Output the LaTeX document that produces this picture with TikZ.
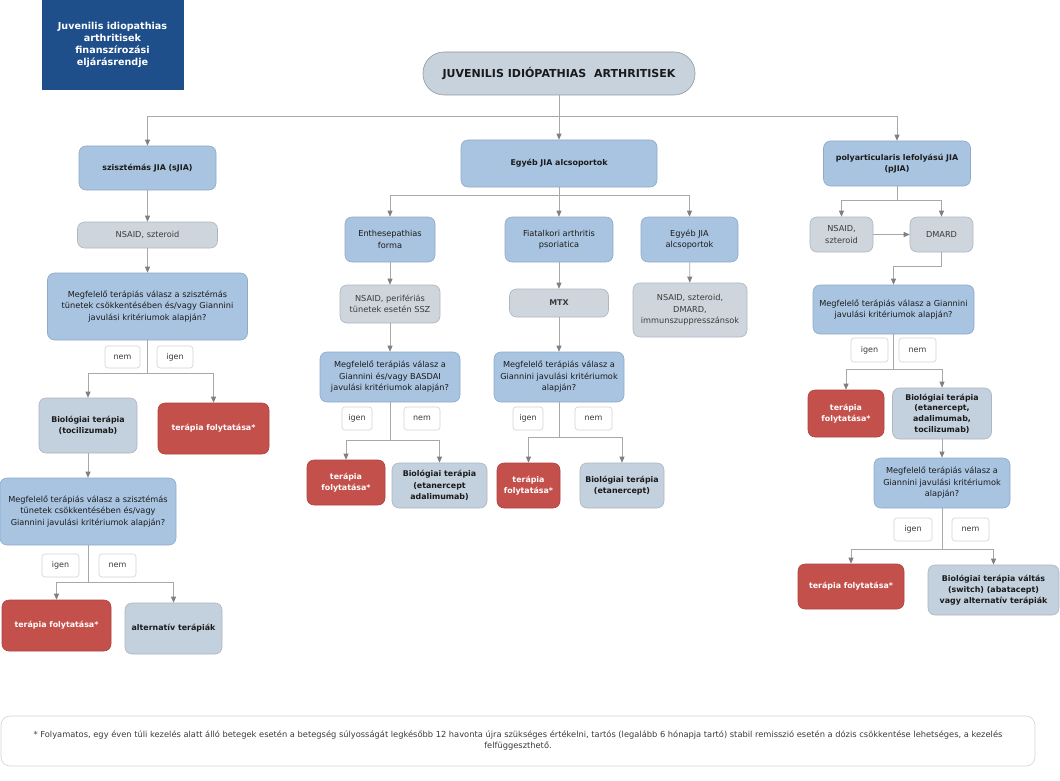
\documentclass[tikz,border=0pt]{standalone}
\usepackage{fontspec}
\setmainfont{DejaVu Sans}
\usetikzlibrary{arrows.meta}
\definecolor{titleF}{HTML}{1F4F8A}
\definecolor{pillF}{HTML}{C8D2DD}
\definecolor{pillD}{HTML}{8E98A3}
\definecolor{blueF}{HTML}{A9C4E0}
\definecolor{blueD}{HTML}{8FAAC8}
\definecolor{grayF}{HTML}{CFD5DC}
\definecolor{grayD}{HTML}{AEB6BF}
\definecolor{bgrayF}{HTML}{C3D0DD}
\definecolor{redF}{HTML}{C4504C}
\definecolor{redD}{HTML}{AE4441}
\definecolor{lblD}{HTML}{D2D2D2}
\definecolor{lineC}{HTML}{A8A8A8}
\definecolor{tipC}{HTML}{808080}
\definecolor{txt}{HTML}{1A1A1A}
\definecolor{txtg}{HTML}{3A3A3A}
\begin{document}
\begin{tikzpicture}[x=1pt,y=-1pt,
  bx/.style={draw, rounded corners=7pt, align=center, inner sep=1pt, line width=0.6pt, font=\fontsize{8.2}{11.5}\selectfont},
  sz/.style 2 args={minimum width=#1pt, minimum height=#2pt},
  bluebox/.style={bx, fill=blueF, draw=blueD, text=txt},
  graybox/.style={bx, fill=grayF, draw=grayD, text=txtg},
  biobox/.style={bx, fill=bgrayF, draw=grayD, text=txt, font=\fontsize{7.9}{11.2}\selectfont\bfseries},
  redbox/.style={bx, fill=redF, draw=redD, text=white, font=\fontsize{7.9}{11.5}\selectfont\bfseries},
  bold/.style={font=\fontsize{7.9}{11.5}\selectfont\bfseries},
  lbl/.style={draw=lblD, fill=white, rounded corners=3pt, line width=0.6pt, font=\fontsize{8}{9}\selectfont, text=txtg},
  conn/.style={draw=lineC, line width=0.7pt},
  arr/.style={conn, -{Triangle[length=6pt,width=5pt,fill=tipC,color=tipC]}}]
\useasboundingbox (0,0) rectangle (1060,781);

% title
\node[bx, rounded corners=0pt, fill=titleF, draw=titleF, text=white, font=\fontsize{9.6}{12}\selectfont\bfseries, sz={141}{89}] (title) at (112.5,44.5) {Juvenilis idiopathias\\arthritisek\\finanszírozási\\eljárásrendje};

% top level
\node[bx, rounded corners=21pt, fill=pillF, draw=pillD, text=txt, font=\fontsize{11}{12}\selectfont\bfseries, sz={272}{43}] (top) at (559,73.5) {JUVENILIS IDIÓPATHIAS\ \ ARTHRITISEK};
\node[bluebox, bold, sz={137}{44}] (sjia) at (147.5,168) {szisztémás JIA (sJIA)};
\node[bluebox, bold, sz={196}{47}] (egyeb) at (559,163.5) {Egyéb JIA alcsoportok};
\node[bluebox, bold, sz={147}{45}] (pjia) at (897,163.5) {polyarticularis lefolyású JIA\\(pJIA)};

% sJIA column
\node[graybox, sz={140}{26}] (nsaid1) at (147.5,235) {NSAID, szteroid};
\node[bluebox, sz={200}{67}] (q1) at (147.5,306.5) {Megfelelő terápiás válasz a szisztémás\\tünetek csökkentésében és/vagy Giannini\\javulási kritériumok alapján?};
\node[lbl, sz={35}{22}] (nem1) at (122.5,357) {nem};
\node[lbl, sz={36}{22}] (igen1) at (175,357) {igen};
\node[biobox, sz={98}{55}] (bio1) at (88,425.5) {Biológiai terápia\\(tocilizumab)};
\node[redbox, sz={111}{51}] (red1) at (213.5,428.5) {terápia folytatása*};
\node[bluebox, sz={176}{67}] (q2) at (88,511.5) {Megfelelő terápiás válasz a szisztémás\\tünetek csökkentésében és/vagy\\Giannini javulási kritériumok alapján?};
\node[lbl, sz={37}{23}] (igen2) at (60.5,565.5) {igen};
\node[lbl, sz={37}{23}] (nem2) at (117.5,565.5) {nem};
\node[redbox, sz={109}{51}] (red2) at (56.5,625.5) {terápia folytatása*};
\node[biobox, sz={97}{51}] (alt) at (173.5,628.5) {alternatív terápiák};

% middle column
\node[bluebox, sz={90}{45}] (enth) at (390,239.5) {Enthesepathias\\forma};
\node[bluebox, sz={108}{45}] (fiat) at (559,239.5) {Fiatalkori arthritis\\psoriatica};
\node[bluebox, sz={97}{45}] (egy2) at (689.5,239.5) {Egyéb JIA\\alcsoportok};
\node[graybox, sz={100}{38}] (nsaid2) at (390,304) {NSAID, perifériás\\tünetek esetén SSZ};
\node[graybox, bold, sz={99}{28}] (mtx) at (559,303) {MTX};
\node[graybox, sz={114}{54}] (nsaid3) at (690,310) {NSAID, szteroid,\\DMARD,\\immunszuppresszánsok};
\node[bluebox, sz={140}{50}] (q3) at (390,377) {Megfelelő terápiás válasz a\\Giannini és/vagy BASDAI\\javulási kritériumok alapján?};
\node[bluebox, sz={130}{50}] (q4) at (559,377) {Megfelelő terápiás válasz a\\Giannini javulási kritériumok\\alapján?};
\node[lbl, sz={30}{23}] (igen3) at (357,418.5) {igen};
\node[lbl, sz={36}{23}] (nem3) at (422,418.5) {nem};
\node[lbl, sz={30}{23}] (igen4) at (528,418.5) {igen};
\node[lbl, sz={37}{23}] (nem4) at (593.5,418.5) {nem};
\node[redbox, sz={78}{45}] (red3) at (346,482.5) {terápia\\folytatása*};
\node[biobox, sz={95}{45}] (bio3) at (439.5,485.5) {Biológiai terápia\\(etanercept\\adalimumab)};
\node[redbox, sz={63}{45}] (red4) at (528.5,485.5) {terápia\\folytatása*};
\node[biobox, sz={84}{45}] (bio4) at (622,485.5) {Biológiai terápia\\(etanercept)};

% pJIA column
\node[graybox, sz={63}{35}] (nsaid4) at (841.5,234.5) {NSAID,\\szteroid};
\node[graybox, sz={63}{35}] (dmard) at (941.5,234.5) {DMARD};
\node[bluebox, sz={161}{49}] (q5) at (893.5,309.5) {Megfelelő terápiás válasz a Giannini\\javulási kritériumok alapján?};
\node[lbl, sz={37}{24}] (igen5) at (869.5,350) {igen};
\node[lbl, sz={37}{24}] (nem5) at (917.5,350) {nem};
\node[redbox, sz={76}{47}] (red5) at (846,413.5) {terápia\\folytatása*};
\node[biobox, sz={99}{51}, font=\fontsize{7.9}{10.6}\selectfont\bfseries] (bio5) at (942,413.5) {Biológiai terápia\\(etanercept,\\adalimumab,\\tocilizumab)};
\node[bluebox, sz={136}{50}] (q6) at (942,483) {Megfelelő terápiás válasz a\\Giannini javulási kritériumok\\alapján?};
\node[lbl, sz={38}{23}] (igen6) at (913,529.5) {igen};
\node[lbl, sz={37}{23}] (nem6) at (970.5,529.5) {nem};
\node[redbox, sz={106}{45}] (red6) at (851,586.5) {terápia folytatása*};
\node[biobox, sz={131}{50}] (bio6) at (993.5,590) {Biológiai terápia váltás\\(switch) (abatacept)\\vagy alternatív terápiák};

% footnote
\node[draw=lblD, fill=white, rounded corners=9pt, line width=0.6pt, align=center, text=txtg, font=\fontsize{8.3}{11}\selectfont, sz={1034}{50}] (note) at (518,741) {* Folyamatos, egy éven túli kezelés alatt álló betegek esetén a betegség súlyosságát legkésőbb 12 havonta újra szükséges értékelni, tartós (legalább 6 hónapja tartó) stabil remisszió esetén a dózis csökkentése lehetséges, a kezelés\\felfüggeszthető.};

% branch points
\coordinate (t1) at (559,116);
\coordinate (t2) at (559,195);
\coordinate (t3) at (897,200);
\coordinate (t4) at (941.5,266);
\coordinate (b1) at (147.5,373);
\coordinate (b2) at (88,582);
\coordinate (b3) at (390,440);
\coordinate (b4) at (559,437);
\coordinate (b5) at (893.5,369);
\coordinate (b6) at (942,549);

% connectors
\draw[arr] (top) -- (egyeb);
\draw[arr] (t1) -| (sjia.north);
\draw[arr] (t1) -| (pjia.north);

\draw[arr] (sjia) -- (nsaid1);
\draw[arr] (nsaid1) -- (q1);
\draw[conn] (q1.south) -- (b1);
\draw[arr] (b1) -| (bio1.north);
\draw[arr] (b1) -| (red1.north);
\draw[arr] (bio1) -- (q2);
\draw[conn] (q2.south) -- (b2);
\draw[arr] (b2) -| (red2.north);
\draw[arr] (b2) -| (alt.north);

\draw[conn] (egyeb.south) -- (t2);
\draw[arr] (t2) -| (enth.north);
\draw[arr] (t2) -- (fiat.north);
\draw[arr] (t2) -| (egy2.north);
\draw[arr] (enth) -- (nsaid2);
\draw[arr] (nsaid2) -- (q3);
\draw[arr] (fiat) -- (mtx);
\draw[arr] (mtx) -- (q4);
\draw[arr] (egy2) -- (nsaid3);
\draw[conn] (q3.south) -- (b3);
\draw[arr] (b3) -| (red3.north);
\draw[arr] (b3) -| (bio3.north);
\draw[conn] (q4.south) -- (b4);
\draw[arr] (b4) -| (red4.north);
\draw[arr] (b4) -| (bio4.north);

\draw[conn] (pjia.south) -- (t3);
\draw[arr] (t3) -| (nsaid4.north);
\draw[arr] (t3) -| (dmard.north);
\draw[arr] (nsaid4) -- (dmard);
\draw[arr] (dmard.south) -- (t4) -| (q5.north);
\draw[conn] (q5.south) -- (b5);
\draw[arr] (b5) -| (red5.north);
\draw[arr] (b5) -| (bio5.north);
\draw[arr] (bio5) -- (q6);
\draw[conn] (q6.south) -- (b6);
\draw[arr] (b6) -| (red6.north);
\draw[arr] (b6) -| (bio6.north);
\end{tikzpicture}
\end{document}
